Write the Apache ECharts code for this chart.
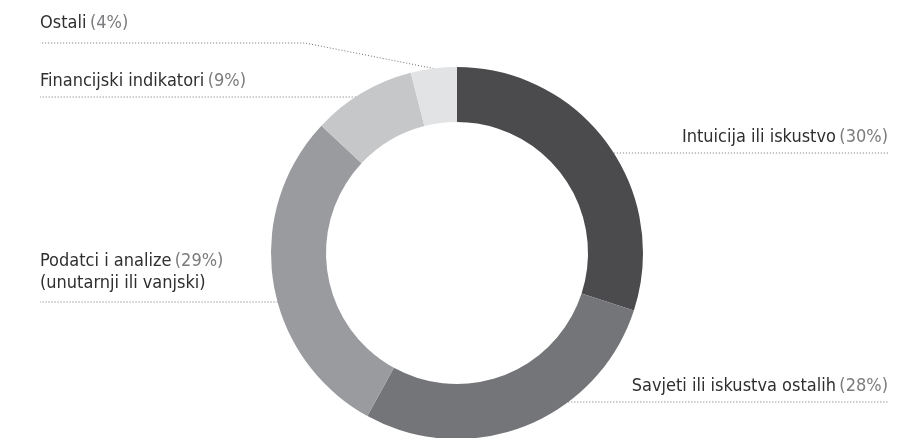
<!DOCTYPE html>
<html>
<head>
<meta charset="utf-8">
<script src="https://cdn.jsdelivr.net/npm/echarts@6/dist/echarts.min.js"></script>
<style>
html,body{margin:0;padding:0;background:#fff;}
#c{width:922px;height:438px;}
</style>
</head>
<body>
<div id="c"></div>
<script>
// ---- data ----
var names = ['Intuicija ili iskustvo', 'Savjeti ili iskustva ostalih', 'Podatci i analize', 'Financijski indikatori', 'Ostali'];
var subtitles = ['', '', '(unutarnji ili vanjski)', '', ''];
var values = [30, 28, 29, 9, 4];
var colors = ['#4b4b4e', '#747578', '#9a9b9e', '#c6c7c9', '#e2e3e5'];

// ---- layout (positions only) ----
var CX = 457, CY = 253, R_IN = 131, R_OUT = 186;
var LEFT_X = 40, RIGHT_X = 888;
var placement = [
  {side: 'right', lineY: 153, gap: 5},
  {side: 'right', lineY: 402, gap: 5},
  {side: 'left', lineY: 302, gap: 8},
  {side: 'left', lineY: 97, gap: 5},
  {side: 'left', lineY: 43, gap: 9, elbowX: 305}
];
var FONT = "'Liberation Sans Narrow', 'DejaVu Sans Condensed', 'Roboto Condensed', 'Arial Narrow', sans-serif";

var data = names.map(function (n, i) {
  return {name: n, value: values[i], itemStyle: {color: colors[i]}};
});

var chart = echarts.init(document.getElementById('c'), null, {renderer: 'canvas'});
chart.setOption({
  backgroundColor: '#ffffff',
  animation: false,
  series: [{
    type: 'pie',
    center: [CX, CY],
    radius: [R_IN, R_OUT],
    startAngle: 90,
    clockwise: true,
    avoidLabelOverlap: false,
    data: data,
    label: {
      show: true,
      fontFamily: FONT,
      formatter: function (p) {
        var s = '{n|' + p.name + '} {p|(' + p.value + '%)}';
        if (subtitles[p.dataIndex]) s += '\n{n|' + subtitles[p.dataIndex] + '}';
        return s;
      },
      rich: {
        n: {fontFamily: FONT, fontSize: 18, color: '#2f2f31', lineHeight: 22},
        p: {fontFamily: FONT, fontSize: 18, color: '#7c7c7f', lineHeight: 22}
      }
    },
    labelLine: {
      show: true,
      lineStyle: {color: '#707073', width: 1, type: [1, 2]}
    },
    labelLayout: function (params) {
      var pl = placement[params.dataIndex];
      var dy = pl.lineY - CY;
      var dx = Math.sqrt(Math.max(0, R_OUT * R_OUT - dy * dy));
      var pts;
      if (pl.elbowX !== undefined) {
        pts = [params.labelLinePoints[0].slice(), [pl.elbowX, pl.lineY], [LEFT_X, pl.lineY]];
      } else if (pl.side === 'right') {
        pts = [[CX + dx, pl.lineY], [(CX + dx + RIGHT_X) / 2, pl.lineY], [RIGHT_X, pl.lineY]];
      } else {
        pts = [[CX - dx, pl.lineY], [(CX - dx + LEFT_X) / 2, pl.lineY], [LEFT_X, pl.lineY]];
      }
      return {
        x: pl.side === 'right' ? RIGHT_X : LEFT_X,
        y: pl.lineY - pl.gap,
        align: pl.side === 'right' ? 'right' : 'left',
        verticalAlign: 'bottom',
        labelLinePoints: pts
      };
    }
  }]
});
</script>
</body>
</html>
